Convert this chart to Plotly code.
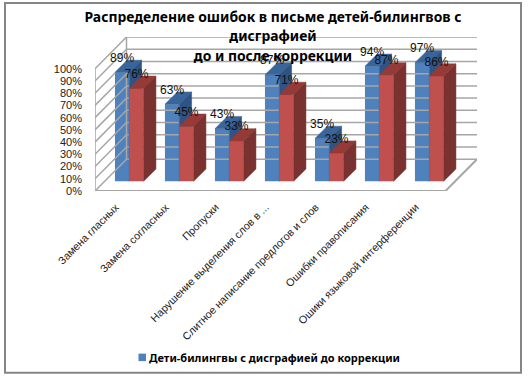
import plotly.graph_objects as go

categories = ["Замена гласных", "Замена согласных", "Пропуски", "Нарушение выделения слов в ...",
              "Слитное написание предлогов и слов", "Ошибки правописания", "Ошики языковой интерференции"]
before = [89, 63, 43, 87, 35, 94, 97]
after = [76, 45, 33, 71, 23, 87, 86]
before_name = "Дети-билингвы с дисграфией до коррекции"
after_name = "Дети-билингвы с дисграфией после коррекции"
title_lines = ["Распределение ошибок в письме детей-билингвов с", "дисграфией", "до и после коррекции"]
y_ticks = list(range(0, 101, 10))

W, H = 528, 376
L, R, T, B = 95, 51, 37, 185.3
PX_X = 50.0            # px per category
PX_Y = 1.22            # px per percent
X0 = -(129.3 - 95) / PX_X
X1 = X0 + (W - L - R) / PX_X
Y1 = (H - T - B) / PX_Y
BAR_W = 14.35 / PX_X
BASE = 8               # bars stand forward of the axis plane
DX, DY = 12.3 / PX_X, 10
WX, WY = 31.5 / PX_X, 26
GRID = "#A6A6A6"
FONT = "Noto Sans"
AXIS_FONT = "Liberation Sans"

fig = go.Figure()

def line(xs, ys, width=1.5):
    fig.add_trace(go.Scatter(x=xs, y=ys, mode="lines", line=dict(color=GRID, width=width),
                             showlegend=False, hoverinfo="skip", cliponaxis=False))

front_r = X1 - WX
for t in y_ticks:
    line([X0, X0 + WX, X1], [t, t + WY, t + WY])
line([X0, X0], [0, 100])
line([X0 + WX, X0 + WX], [WY, 100 + WY])
line([X0, front_r, X1], [0, 0, WY], 2)

def poly(xs, ys, color, yaxis):
    fig.add_trace(go.Scatter(x=xs, y=ys, mode="lines", fill="toself", fillcolor=color,
                             line=dict(color=color, width=0.5), yaxis=yaxis,
                             showlegend=False, hoverinfo="skip", cliponaxis=False))

def faces(left, values, side, top, yaxis):
    for i, v in enumerate(values):
        a, b, h = i + left, i + left + BAR_W, v + BASE
        poly([a, b, b + DX, a + DX, a], [h, h, h + DY, h + DY, h], top, yaxis)
        poly([b, b + DX, b + DX, b, b], [BASE, BASE + DY, h + DY, h, BASE], side, yaxis)

xs = list(range(len(categories)))
faces(-BAR_W, before, "#2F5483", "#3A659A", "y")
fig.add_trace(go.Bar(x=xs, y=before, base=BASE, width=BAR_W, offset=-BAR_W, name=before_name,
                     marker=dict(color="#4F81BD", line=dict(width=0)), showlegend=False, hoverinfo="skip"))
fig.add_trace(go.Bar(x=xs, y=after, base=BASE, width=BAR_W, offset=0, name=after_name, yaxis="y2",
                     marker=dict(color="#C0504D", line=dict(width=0)), showlegend=False, hoverinfo="skip"))
faces(0, after, "#7A3230", "#953A37", "y2")

label_font = dict(family=AXIS_FONT, size=12, color="#111111")
fig.add_trace(go.Scatter(x=[i - BAR_W / 2 for i in xs], y=[v + BASE + 11 for v in before], yaxis="y2",
                         mode="text", text=[f"{v}%" for v in before], textfont=label_font,
                         textposition="middle center", showlegend=False, hoverinfo="skip", cliponaxis=False))
fig.add_trace(go.Scatter(x=[i + BAR_W / 2 for i in xs], y=[v + BASE + 11 for v in after], yaxis="y2",
                         mode="text", text=[f"{v}%" for v in after], textfont=label_font,
                         textposition="middle center", showlegend=False, hoverinfo="skip", cliponaxis=False))

plot_w, plot_h = W - L - R, H - T - B
floor_px = T + plot_h
def px(x): return (x - L) / plot_w
def py(y): return (floor_px - y) / plot_h

title_html = "<br>".join(f'<span style="font-size:13.9px">{t}</span>' for t in title_lines)

fig.update_layout(
    width=W, height=H, margin=dict(l=L, r=R, t=T, b=B),
    paper_bgcolor="white", plot_bgcolor="rgba(0,0,0,0)", showlegend=False,
    title=dict(text=title_html, x=273 / W, xanchor="center", y=0.942, yanchor="top",
               font=dict(family=FONT, size=15, color="black", weight="bold")),
    xaxis=dict(range=[X0, X1], tickmode="array", tickvals=[i - 0.27 for i in xs], ticktext=categories, tickangle=-45,
               showgrid=False, zeroline=False, showline=False, ticks="", ticklabelstandoff=7,
               tickfont=dict(family=AXIS_FONT, size=10.7, color="#222222")),
    yaxis=dict(range=[0, Y1], tickmode="array", tickvals=y_ticks, ticktext=[f"{t}%" for t in y_ticks],
               showgrid=False, zeroline=False, showline=False, ticks="", ticklabelstandoff=12,
               tickfont=dict(family=AXIS_FONT, size=11, color="#222222")),
    yaxis2=dict(range=[0, Y1], overlaying="y", visible=False),
    annotations=[dict(text=before_name, xref="paper", yref="paper", x=px(147), y=py(356.5), xanchor="left",
                      yanchor="middle", showarrow=False,
                      font=dict(family=FONT, size=11, color="black", weight="bold"))],
    shapes=[dict(type="rect", xref="paper", yref="paper", x0=px(5), x1=px(521), y0=py(372), y1=py(3),
                 line=dict(color="#868686", width=2), layer="below"),
            dict(type="rect", xref="paper", yref="paper", x0=px(138.5), x1=px(146), y0=py(360.5), y1=py(353),
                 fillcolor="#4F81BD", line=dict(width=0))],
)
fig.write_html("out.html", config=dict(displayModeBar=False), post_script="document.body.style.margin='0';")
